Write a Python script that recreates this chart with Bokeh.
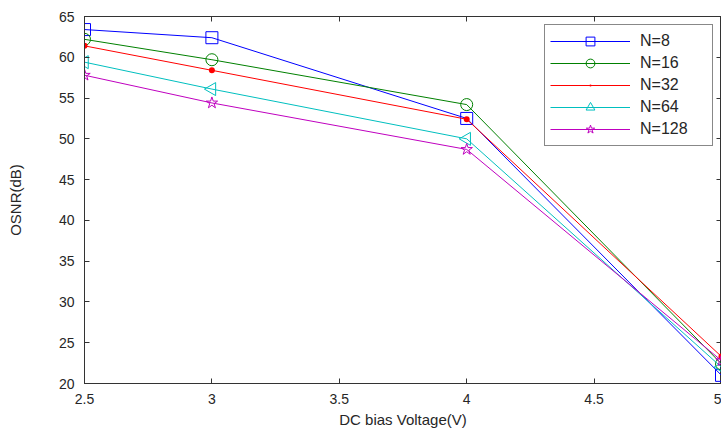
import math
from bokeh.plotting import figure
from bokeh.models import (LinearAxis, Legend, LegendItem, FixedTicker,
                          NumeralTickFormatter, Range1d, CustomJSTickFormatter)
from bokeh.embed import file_html
from bokeh.resources import INLINE

voltage = [2.5, 3.0, 4.0, 5.0]
osnr_n8 = [63.4, 62.4, 52.5, 21.0]
osnr_n16 = [62.2, 59.7, 54.2, 22.4]
osnr_n32 = [61.4, 58.4, 52.4, 23.3]
osnr_n64 = [59.4, 56.1, 50.0, 22.0]
osnr_n128 = [57.8, 54.4, 48.7, 22.8]
series_labels = ["N=8", "N=16", "N=32", "N=64", "N=128"]
x_ticks = [2.5, 3.0, 3.5, 4.0, 4.5, 5.0]
y_ticks = [20, 25, 30, 35, 40, 45, 50, 55, 60, 65]

FONT = "Liberation Sans"
AX = "#333333"
TXT = "#262626"

p = figure(width=721, height=430, output_backend="svg", toolbar_location=None,
           x_range=Range1d(2.5, 5.0), y_range=Range1d(20, 65),
           min_border_left=84, min_border_right=0, min_border_top=16,
           min_border_bottom=45, x_axis_label="DC bias Voltage(V)",
           y_axis_label="OSNR(dB)")
p.background_fill_color = "white"
p.border_fill_color = "white"
p.outline_line_color = AX
p.xgrid.visible = False
p.ygrid.visible = False

for ax in (p.xaxis[0], p.yaxis[0]):
    ax.axis_line_color = AX
    ax.major_tick_line_color = AX
    ax.major_tick_in = 5
    ax.major_tick_out = 0
    ax.minor_tick_line_color = None
    ax.major_label_text_font = FONT
    ax.major_label_text_font_size = "14px"
    ax.major_label_text_color = TXT
    ax.axis_label_text_font = FONT
    ax.axis_label_text_font_size = "15px"
    ax.axis_label_text_font_style = "normal"
    ax.axis_label_text_color = TXT
    ax.major_label_standoff = 10

p.xaxis[0].ticker = FixedTicker(ticks=x_ticks)
p.yaxis[0].ticker = FixedTicker(ticks=y_ticks)
p.xaxis[0].formatter = NumeralTickFormatter(format="0.[0]")
p.yaxis[0].formatter = NumeralTickFormatter(format="0")
p.xaxis[0].axis_label_standoff = 4
p.yaxis[0].axis_label_standoff = 32

top = LinearAxis(ticker=FixedTicker(ticks=x_ticks),
                 formatter=CustomJSTickFormatter(code="return ''"),
                 major_label_standoff=0, major_tick_in=5, major_tick_out=0,
                 minor_tick_line_color=None, axis_line_color=AX,
                 major_tick_line_color=AX)
right = LinearAxis(ticker=FixedTicker(ticks=y_ticks),
                   formatter=CustomJSTickFormatter(code="return ''"),
                   major_label_standoff=0, major_tick_in=5, major_tick_out=0,
                   minor_tick_line_color=None, axis_line_color=AX,
                   major_tick_line_color=AX)
p.add_layout(top, "above")
p.add_layout(right, "right")

styles = [
    (osnr_n8, "#0000ff", "square", 12, None, 0),
    (osnr_n16, "#008000", "circle", 12, None, 0),
    (osnr_n32, "#ff0000", "dot", 24, "#ff0000", 0),
    (osnr_n64, "#00bfbf", "triangle", 13, None, math.pi / 2),
    (osnr_n128, "#bf00bf", "star", 12, None, 0),
]

items = []
for (vals, color, marker, size, fill, ang), lab in zip(styles, series_labels):
    r1 = p.line(voltage, vals, line_color=color, line_width=1)
    r2 = p.scatter(voltage, vals, marker=marker, size=size, line_color=color,
                   fill_color=fill, line_width=1, angle=ang)
    items.append(LegendItem(label=lab, renderers=[r1, r2]))

legend = Legend(items=items, location="top_right", margin=8, padding=5,
                spacing=0, label_height=22, glyph_height=22, glyph_width=80,
                label_standoff=10, label_width=67,
                label_text_font=FONT, label_text_font_size="16px",
                label_text_color=TXT, border_line_color="#111111",
                border_line_width=1, background_fill_color="white",
                background_fill_alpha=1.0)
p.add_layout(legend, "center")

open("out.html", "w").write(file_html(p, INLINE))
